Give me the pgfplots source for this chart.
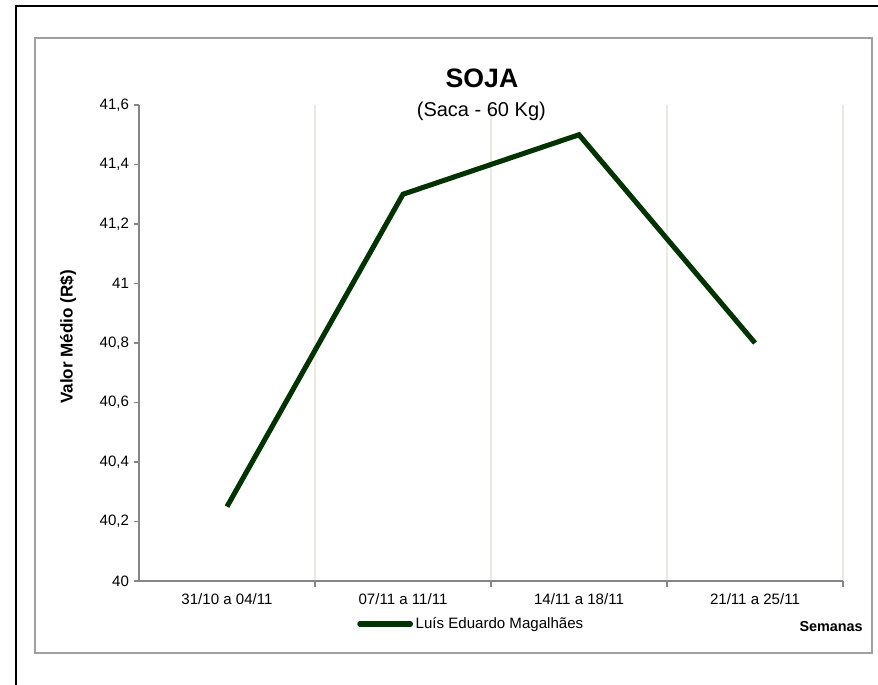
\documentclass[border=0pt]{standalone}
\usepackage{pgfplots}
\pgfplotsset{compat=1.18}
\usepackage{fontspec}
\setmainfont{Liberation Sans}
\definecolor{soja}{HTML}{003300}
\definecolor{axgray}{HTML}{868686}
\definecolor{gridc}{HTML}{ECE9E0}
\definecolor{framec}{HTML}{A0A0A0}
\begin{document}
\begin{tikzpicture}
\clip (0,0) rectangle (658.5pt,513.75pt);
\draw[black, line width=1.5pt] (12pt,-20pt) -- (12pt,509.25pt) -- (680pt,509.25pt);
\draw[framec, line width=1.6pt] (26.25pt,24pt) rectangle (654pt,485.25pt);
\begin{axis}[
  at={(104.25pt,78pt)}, anchor=south west,
  scale only axis, width=528pt, height=357pt,
  xmin=-0.5, xmax=3.5, ymin=40, ymax=41.6,
  axis x line*=bottom, axis y line*=left,
  axis line style={axgray, line width=1.2pt},
  xtick={0,1,2,3},
  xticklabels={31/10 a 04/11, 07/11 a 11/11, 14/11 a 18/11, 21/11 a 25/11},
  every major x tick/.append style={draw=none},
  minor xtick={0.5,1.5,2.5,3.5},
  xminorgrids,
  minor grid style={gridc, line width=0.9pt},
  every minor x tick/.append style={axgray, line width=1pt},
  minor tick length=4.5pt,
  ytick={40,40.2,40.4,40.6,40.8,41,41.2,41.4,41.6},
  yticklabels={40,{40,2},{40,4},{40,6},{40,8},41,{41,2},{41,4},{41,6}},
  every major y tick/.append style={axgray, line width=1pt},
  major tick length=4pt,
  tick align=outside,
  tick label style={font=\fontsize{11.3}{13}\selectfont, text=black},
  xticklabel style={yshift=-2pt},
  legend style={at={(0.3097,-0.0903)}, anchor=west, draw=none, fill=none, inner sep=0pt,
    font=\fontsize{11.3}{13}\selectfont},
  legend image code/.code={\draw[#1, line cap=round] (0pt,0pt) -- (38pt,0pt);},
  clip=false,
]
\addplot[soja, line width=3.8pt, line join=miter] coordinates {
  (0,40.25) (1,41.3) (2,41.5) (3,40.8)
};
\addlegendentry{Luís Eduardo Magalhães}
\end{axis}
\node[font=\bfseries\fontsize{20}{24}\selectfont] at (361.5pt,455pt) {SOJA};
\node[font=\fontsize{15}{18}\selectfont] at (361pt,430.5pt) {(Saca - 60 Kg)};
\node[font=\bfseries\fontsize{12.8}{15}\selectfont, rotate=90] at (51pt,261pt) {Valor Médio (R\$)};
\node[font=\bfseries\fontsize{10.8}{12}\selectfont, anchor=east, inner sep=0pt] at (647.25pt,43.5pt) {Semanas};
\end{tikzpicture}
\end{document}
